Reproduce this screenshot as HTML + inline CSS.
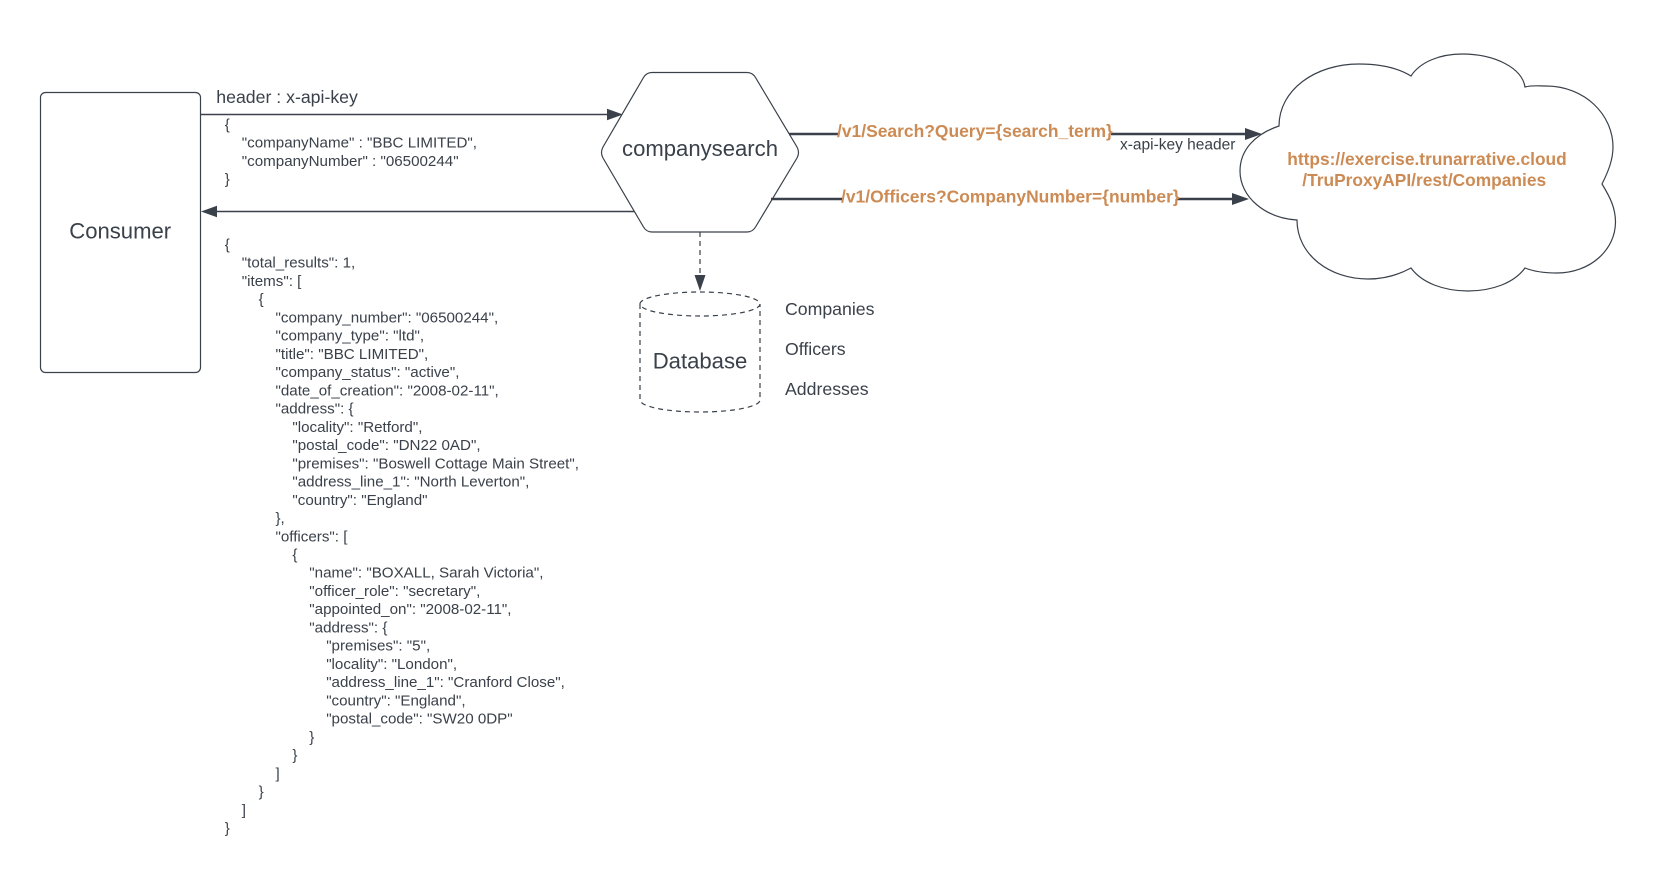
<!DOCTYPE html>
<html>
<head>
<meta charset="utf-8">
<style>
html,body{margin:0;padding:0;background:#fff;width:1679px;height:892px;overflow:hidden}
svg{display:block;filter:blur(0.35px)}
text{font-family:"Liberation Sans",Arial,sans-serif;fill:#3a414a}
.j{font-size:15.15px}
.o{font-weight:bold;font-size:17.45px;fill:#cc8b54}
.c{font-weight:bold;font-size:17.35px;fill:#cc8b54}
.m{font-size:17.7px}
.b{font-size:22.1px}
</style>
</head>
<body>
<svg width="1679" height="892" viewBox="0 0 1679 892" xmlns="http://www.w3.org/2000/svg">
<rect width="1679" height="892" fill="#fff"/>

<!-- Consumer -->
<rect x="40.5" y="92.5" width="160" height="280" rx="5" fill="#fff" stroke="#3a414a" stroke-width="1.2"/>
<text class="b" x="120.2" y="238.7" text-anchor="middle">Consumer</text>

<!-- arrows left -->
<line x1="200" y1="114.5" x2="608" y2="114.5" stroke="#3a414a" stroke-width="1.5"/>
<polygon points="607,108.7 623,114.5 607,120.3" fill="#3a414a"/>
<line x1="217" y1="211.5" x2="640" y2="211.5" stroke="#3a414a" stroke-width="1.5"/>
<polygon points="217,205.7 201,211.5 217,217.3" fill="#3a414a"/>

<text class="m" x="216.3" y="103">header : x-api-key</text>

<text class="j" x="224.8" y="129.7">{</text>
<text class="j" x="241.8" y="147.7">"companyName" : "BBC LIMITED",</text>
<text class="j" x="241.8" y="165.8">"companyNumber" : "06500244"</text>
<text class="j" x="224.8" y="183.8">}</text>

<!-- hexagon -->
<path d="M652,72.5 L747,72.5 Q752.5,72.5 755.5,77.5 L797,147 Q800,152.5 797,158 L755.5,227 Q752.5,232 747,232 L652,232 Q646.5,232 643.5,227 L603,158 Q600,152.5 603,147 L643.5,77.5 Q646.5,72.5 652,72.5 Z" fill="#fff" stroke="#3a414a" stroke-width="1.2"/>
<text class="b" x="700" y="156" text-anchor="middle">companysearch</text>

<!-- right connectors -->
<line x1="789" y1="134" x2="838" y2="134" stroke="#3a414a" stroke-width="2.4"/>
<line x1="1111" y1="134" x2="1246" y2="134" stroke="#3a414a" stroke-width="2.4"/>
<polygon points="1245,128 1262,134 1245,140" fill="#3a414a"/>
<line x1="771" y1="199" x2="842" y2="199" stroke="#3a414a" stroke-width="2.4"/>
<line x1="1177" y1="199" x2="1233" y2="199" stroke="#3a414a" stroke-width="2.4"/>
<polygon points="1232,193 1249,199 1232,205" fill="#3a414a"/>

<text class="o" x="837" y="137">/v1/Search?Query={search_term}</text>
<text class="o" x="841" y="202.5">/v1/Officers?CompanyNumber={number}</text>
<text x="1120" y="149.7" style="font-size:15.5px">x-api-key header</text>

<!-- cloud -->
<path d="M1279,126 C1279,90 1315,64 1359,64 C1380,64 1398,68 1411,76 C1420,62 1440,54 1462,54 C1495,54 1522,68 1525,87 C1532,85 1539,86 1546,86 C1585,86 1613,115 1613,147 C1613,160 1608,172 1602,184 C1610,197 1615.5,208 1615.5,222 C1615.5,250 1590,273 1557,273 C1546,273 1535,272 1525,268 C1514,283 1492,291 1468,291 C1444,291 1422,283 1411,268 C1400,274 1385,279 1368,279 C1330,279 1297,255 1297,220 C1265,218 1240,197 1240,171 C1240,150 1255,134 1279,126 Z" fill="none" stroke="#3a414a" stroke-width="1.2"/>
<text class="c" x="1427" y="164.8" text-anchor="middle">https://exercise.trunarrative.cloud</text>
<text class="c" x="1424.2" y="185.8" text-anchor="middle">/TruProxyAPI/rest/Companies</text>

<!-- dashed arrow -->
<line x1="700" y1="232" x2="700" y2="277" stroke="#3a414a" stroke-width="1.2" stroke-dasharray="5 4"/>
<polygon points="694.5,275 705.5,275 700,291" fill="#3a414a"/>

<!-- database -->
<ellipse cx="700" cy="304" rx="60" ry="12" fill="none" stroke="#3a414a" stroke-width="1.2" stroke-dasharray="5 4"/>
<path d="M640,304 L640,400 C640,406.5 666,412 700,412 C734,412 760,406.5 760,400 L760,304" fill="none" stroke="#3a414a" stroke-width="1.2" stroke-dasharray="5 4"/>
<text class="b" x="700" y="368.5" text-anchor="middle">Database</text>

<text class="m" x="785" y="315">Companies</text>
<text class="m" x="785" y="355">Officers</text>
<text class="m" x="785" y="395">Addresses</text>

<!-- JSON -->
<text class="j" x="224.8" y="249.3">{</text>
<text class="j" x="241.8" y="267.5">"total_results": 1,</text>
<text class="j" x="241.8" y="285.8">"items": [</text>
<text class="j" x="258.6" y="304">{</text>
<text class="j" x="275.5" y="322.3">"company_number": "06500244",</text>
<text class="j" x="275.5" y="340.5">"company_type": "ltd",</text>
<text class="j" x="275.5" y="358.8">"title": "BBC LIMITED",</text>
<text class="j" x="275.5" y="377">"company_status": "active",</text>
<text class="j" x="275.5" y="395.3">"date_of_creation": "2008-02-11",</text>
<text class="j" x="275.5" y="413.5">"address": {</text>
<text class="j" x="292.4" y="431.8">"locality": "Retford",</text>
<text class="j" x="292.4" y="450">"postal_code": "DN22 0AD",</text>
<text class="j" x="292.4" y="468.3">"premises": "Boswell Cottage Main Street",</text>
<text class="j" x="292.4" y="486.5">"address_line_1": "North Leverton",</text>
<text class="j" x="292.4" y="504.8">"country": "England"</text>
<text class="j" x="275.5" y="523">},</text>
<text class="j" x="275.5" y="541.3">"officers": [</text>
<text class="j" x="292.4" y="559.5">{</text>
<text class="j" x="309.3" y="577.6">"name": "BOXALL, Sarah Victoria",</text>
<text class="j" x="309.3" y="595.9">"officer_role": "secretary",</text>
<text class="j" x="309.3" y="614.2">"appointed_on": "2008-02-11",</text>
<text class="j" x="309.3" y="632.4">"address": {</text>
<text class="j" x="326.2" y="650.7">"premises": "5",</text>
<text class="j" x="326.2" y="669">"locality": "London",</text>
<text class="j" x="326.2" y="687.2">"address_line_1": "Cranford Close",</text>
<text class="j" x="326.2" y="705.5">"country": "England",</text>
<text class="j" x="326.2" y="723.7">"postal_code": "SW20 0DP"</text>
<text class="j" x="309.3" y="742">}</text>
<text class="j" x="292.4" y="760.2">}</text>
<text class="j" x="275.5" y="778.5">]</text>
<text class="j" x="258.6" y="796.7">}</text>
<text class="j" x="241.8" y="815">]</text>
<text class="j" x="224.8" y="833.2">}</text>
</svg>
</body>
</html>
